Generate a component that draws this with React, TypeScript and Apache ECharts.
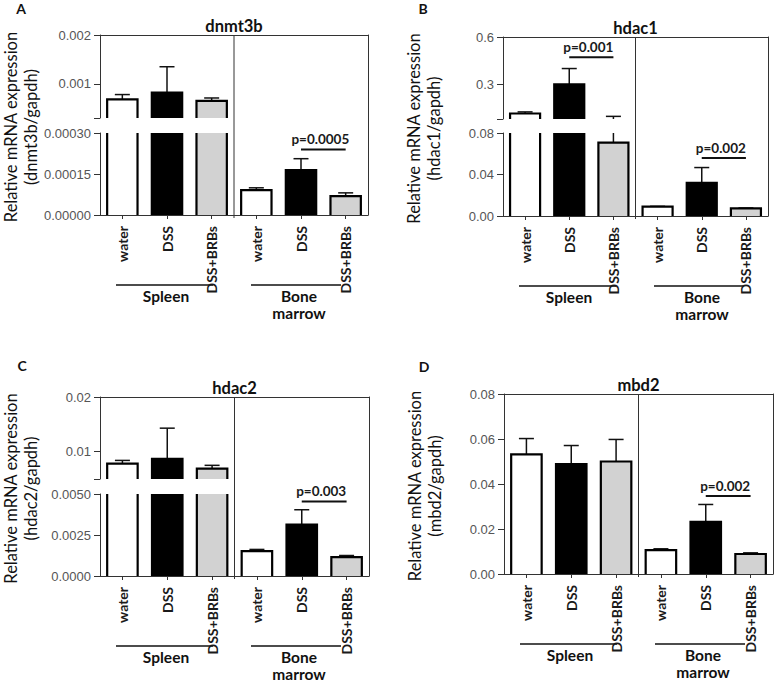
import React, { useEffect, useRef } from 'react';
import * as echarts from 'echarts';

// ---------- data ----------
const categories = ['water', 'DSS', 'DSS+BRBs', 'water', 'DSS', 'DSS+BRBs'];
const tissues = ['Spleen', 'Bone\nmarrow'];
const barColors = ['#ffffff', '#000000', '#d2d2d2'];

const dnmt3bMean = [0.00068, 0.00082, 0.00065, 0.000091, 0.000164, 0.000069];
const dnmt3bErr = [0.0001, 0.00053, 0.00006, 0.0000085, 0.000042, 0.000012];
const dnmt3bUpperRange = [0.0003, 0.002];
const dnmt3bLowerRange = [0, 0.0003];
const dnmt3bUpperTicks = [0.001, 0.002];
const dnmt3bLowerTicks = [0, 0.00015, 0.0003];
const dnmt3bPValues = [[4, 0.00024, 5]];
const dnmt3bPLabels = ['p=0.0005'];

const hdac1Mean = [0.115, 0.3, 0.0707, 0.009, 0.032, 0.0074];
const hdac1Err = [0.01, 0.1, 0.026, 0.0003, 0.0147, 0.0003];
const hdac1UpperRange = [0.08, 0.6];
const hdac1LowerRange = [0, 0.08];
const hdac1UpperTicks = [0.3, 0.6];
const hdac1LowerTicks = [0, 0.04, 0.08];
const hdac1PValues = [[1, 0.472, 2], [4, 0.056, 5]];
const hdac1PLabels = ['p=0.001', 'p=0.002'];

const hdac2Mean = [0.0078, 0.0087, 0.0069, 0.00152, 0.00314, 0.00115];
const hdac2Err = [0.0006, 0.0056, 0.0006, 0.0001, 0.0009, 0.0001];
const hdac2UpperRange = [0.005, 0.02];
const hdac2LowerRange = [0, 0.005];
const hdac2UpperTicks = [0.01, 0.02];
const hdac2LowerTicks = [0, 0.0025, 0.005];
const hdac2PValues = [[4, 0.00455, 5]];
const hdac2PLabels = ['p=0.003'];

const mbd2Mean = [0.0532, 0.0488, 0.05, 0.0106, 0.0232, 0.0089];
const mbd2Err = [0.007, 0.0083, 0.0098, 0.0006, 0.0077, 0.0005];
const mbd2Range = [0, 0.08];
const mbd2Ticks = [0, 0.02, 0.04, 0.06, 0.08];
const mbd2PValues = [[4, 0.0347, 5]];
const mbd2PLabels = ['p=0.002'];

// ---------- layout ----------
const panels = [
  {
    letter: 'A', gene: 'dnmt3b', mean: dnmt3bMean, err: dnmt3bErr,
    segments: [
      { range: dnmt3bUpperRange, ticks: dnmt3bUpperTicks, decimals: 3 },
      { range: dnmt3bLowerRange, ticks: dnmt3bLowerTicks, decimals: 5 },
    ],
    pvals: dnmt3bPValues, plabels: dnmt3bPLabels,
    layout: { left: 100, width: 268, segs: [[35, 118], [133, 215]], lx: 21, ly: 8 },
  },
  {
    letter: 'B', gene: 'hdac1', mean: hdac1Mean, err: hdac1Err,
    segments: [
      { range: hdac1UpperRange, ticks: hdac1UpperTicks, decimals: 1 },
      { range: hdac1LowerRange, ticks: hdac1LowerTicks, decimals: 2 },
    ],
    pvals: hdac1PValues, plabels: hdac1PLabels,
    layout: { left: 503, width: 265, segs: [[37, 119], [133, 216]], lx: 423, ly: 8 },
  },
  {
    letter: 'C', gene: 'hdac2', mean: hdac2Mean, err: hdac2Err,
    segments: [
      { range: hdac2UpperRange, ticks: hdac2UpperTicks, decimals: 2 },
      { range: hdac2LowerRange, ticks: hdac2LowerTicks, decimals: 4 },
    ],
    pvals: hdac2PValues, plabels: hdac2PLabels,
    layout: { left: 100, width: 269, segs: [[397, 479], [494, 576]], lx: 22, ly: 365 },
  },
  {
    letter: 'D', gene: 'mbd2', mean: mbd2Mean, err: mbd2Err,
    segments: [{ range: mbd2Range, ticks: mbd2Ticks, decimals: 2 }],
    pvals: mbd2PValues, plabels: mbd2PLabels,
    layout: { left: 504, width: 269, segs: [[394, 574]], lx: 424, ly: 366 },
  },
];

const BAR_RATIO = 0.68;
const FONT = 'Lato, "Open Sans", sans-serif';

function renderBar(params: any, api: any) {
  const cs = params.coordSys;
  const cat = api.value(0);
  const v = api.value(1);
  const e = api.value(2);
  const ci = api.value(3);
  const bw = api.size([1, 0])[0] * BAR_RATIO;
  const base = api.coord([cat, 0]);
  const top = api.coord([cat, v]);
  const et = api.coord([cat, v + e]);
  const yMin = cs.y;
  const yMax = cs.y + cs.height;
  const clamp = (y: number) => Math.max(yMin, Math.min(yMax, y));
  const x0 = base[0] - bw / 2;
  const x1 = base[0] + bw / 2;
  const yb = clamp(base[1]);
  const yt = clamp(top[1]);
  const children: any[] = [];
  // error bar (upper whisker only)
  const wt = clamp(et[1]);
  const wb = clamp(top[1]);
  if (wb - wt > 0.3) {
    children.push({ type: 'line', shape: { x1: base[0], y1: wb, x2: base[0], y2: wt }, style: { stroke: '#111', lineWidth: 1.5 } });
  }
  if (et[1] >= yMin - 0.5 && et[1] <= yMax && et[1] < top[1] - 0.3) {
    children.push({ type: 'line', shape: { x1: base[0] - 7.5, y1: et[1], x2: base[0] + 7.5, y2: et[1] }, style: { stroke: '#111', lineWidth: 1.5 } });
  }
  if (yb - yt > 0.3) {
    children.push({ type: 'rect', shape: { x: x0, y: yt, width: bw, height: yb - yt }, style: { fill: barColors[ci], stroke: 'none' } });
    const topIn = top[1] >= yMin && top[1] <= yMax;
    if (topIn) {
      children.push({ type: 'polyline', shape: { points: [[x0, yb], [x0, yt], [x1, yt], [x1, yb]] }, style: { stroke: '#000', lineWidth: 2.2, fill: 'none', lineJoin: 'miter' } });
    } else {
      children.push({ type: 'line', shape: { x1: x0, y1: yt, x2: x0, y2: yb }, style: { stroke: '#000', lineWidth: 2.2 } });
      children.push({ type: 'line', shape: { x1: x1, y1: yt, x2: x1, y2: yb }, style: { stroke: '#000', lineWidth: 2.2 } });
    }
  }
  return { type: 'group', children };
}

function makeAnnot(labels: string[]) {
  return (params: any, api: any) => {
    const idx = params.dataIndex;
    const p1 = api.coord([api.value(0), api.value(1)]);
    const p2 = api.coord([api.value(2), api.value(1)]);
    return {
      type: 'group',
      children: [
        { type: 'line', shape: { x1: p1[0], y1: p1[1], x2: p2[0], y2: p2[1] }, style: { stroke: '#111', lineWidth: 2 } },
        {
          type: 'text', x: (p1[0] + p2[0]) / 2 - 3, y: p1[1] - 10,
          style: { text: labels[idx], fill: '#1a1a1a', fontSize: 13.5, fontWeight: 'bold', fontFamily: FONT, align: 'center', verticalAlign: 'middle' },
        },
      ],
    };
  };
}

function renderDivider(params: any, api: any) {
  const cs = params.coordSys;
  const x = api.coord([api.value(0), 0])[0];
  return { type: 'line', shape: { x1: x, y1: cs.y, x2: x, y2: cs.y + cs.height + 3 }, style: { stroke: '#333', lineWidth: 1 } };
}

function buildOption() {
  const grid: any[] = [];
  const xAxis: any[] = [];
  const yAxis: any[] = [];
  const series: any[] = [];
  const graphic: any[] = [];

  panels.forEach((p) => {
    const L = p.layout;
    const frameTop = L.segs[0][0];
    const frameBottom = L.segs[L.segs.length - 1][1];
    const nSeg = p.segments.length;

    p.segments.forEach((s, si) => {
      const [top, bottom] = L.segs[si];
      const isLast = si === nSeg - 1;
      const gi = grid.length;
      grid.push({ left: L.left, top, width: L.width, height: bottom - top, show: false });
      xAxis.push({
        type: 'category', gridIndex: gi, data: categories, boundaryGap: true,
        axisLine: { show: isLast, onZero: false, lineStyle: { color: '#333', width: 1 } },
        axisTick: { show: isLast, alignWithLabel: true, length: 4, lineStyle: { color: '#333' } },
        axisLabel: { show: isLast, interval: 0, rotate: 90, margin: 11, color: '#1a1a1a', fontSize: 14, fontWeight: 'bold', fontFamily: FONT },
        splitLine: { show: false },
      });
      const tickVals = isLast ? s.ticks : [s.range[0], ...s.ticks];
      yAxis.push({
        type: 'value', gridIndex: gi, min: s.range[0], max: s.range[1],
        axisLine: { show: true, onZero: false, lineStyle: { color: '#333', width: 1 } },
        axisTick: { show: true, length: 6, customValues: tickVals, lineStyle: { color: '#333' } },
        axisLabel: {
          customValues: s.ticks, formatter: (v: number) => v.toFixed(s.decimals),
          color: '#555', fontSize: 13, fontFamily: '"Liberation Sans", Arial, sans-serif', margin: 9,
        },
        splitLine: { show: false },
      });
      series.push({
        type: 'custom', xAxisIndex: gi, yAxisIndex: gi, silent: true, renderItem: renderBar,
        data: p.mean.map((m, i) => [i, m, p.err[i], i % 3]),
      });
      const ann = p.pvals
        .map((a, k) => ({ value: a, label: p.plabels[k] }))
        .filter((a) => a.value[1] > s.range[0] && a.value[1] <= s.range[1]);
      if (ann.length) {
        series.push({
          type: 'custom', xAxisIndex: gi, yAxisIndex: gi, silent: true,
          renderItem: makeAnnot(ann.map((a) => a.label)),
          data: ann.map((a) => a.value),
        });
      }
    });

    // frame: top line, right line, divider
    const fi = grid.length;
    grid.push({ left: L.left, top: frameTop, width: L.width, height: frameBottom - frameTop, show: false });
    xAxis.push({
      type: 'value', gridIndex: fi, min: 0, max: categories.length, position: 'top',
      axisLine: { show: true, onZero: false, lineStyle: { color: '#333', width: 1 } },
      axisTick: { show: false }, axisLabel: { show: false }, splitLine: { show: false },
    });
    yAxis.push({
      type: 'value', gridIndex: fi, min: 0, max: 1, position: 'right',
      axisLine: { show: true, onZero: false, lineStyle: { color: '#333', width: 1 } },
      axisTick: { show: false }, axisLabel: { show: false }, splitLine: { show: false },
    });
    series.push({
      type: 'custom', xAxisIndex: fi, yAxisIndex: fi, silent: true, renderItem: renderDivider,
      data: [[categories.length / 2, 0]],
    });

    // texts
    graphic.push({
      type: 'text', x: L.lx, y: L.ly,
      style: { text: p.letter, fill: '#111', fontSize: 14, fontWeight: 'bold', fontFamily: FONT, align: 'center', verticalAlign: 'middle' },
    });
    graphic.push({
      type: 'text', x: L.left + L.width / 2, y: frameTop - 9,
      style: { text: p.gene, fill: '#111', fontSize: 16.5, fontWeight: 'bold', fontFamily: FONT, align: 'center', verticalAlign: 'middle' },
    });
    graphic.push({
      type: 'text', x: L.left - 79, y: (frameTop + frameBottom) / 2 + 2, rotation: Math.PI / 2,
      style: {
        text: 'Relative mRNA expression\n(' + p.gene + '/gapdh)', fill: '#111', fontSize: 16.5, fontFamily: FONT,
        align: 'center', verticalAlign: 'middle', lineHeight: 20,
      },
    });
    const lineY = frameBottom + 70;
    const groupSpans = [[16, 113, 66], [151, 241, 199]];
    groupSpans.forEach((g, k) => {
      graphic.push({ type: 'line', shape: { x1: L.left + g[0], y1: lineY, x2: L.left + g[1], y2: lineY }, style: { stroke: '#111', lineWidth: 1.5 } });
      graphic.push({
        type: 'text', x: L.left + g[2], y: lineY + 2,
        style: { text: tissues[k], fill: '#111', fontSize: 15.5, fontWeight: 'bold', fontFamily: FONT, align: 'center', verticalAlign: 'top', lineHeight: 17 },
      });
    });
  });

  return { animation: false, backgroundColor: '#ffffff', grid, xAxis, yAxis, series, graphic };
}

export default function App() {
  const ref = useRef<HTMLDivElement>(null);
  useEffect(() => {
    const chart = echarts.init(ref.current as HTMLDivElement, null, { renderer: 'svg' });
    chart.setOption(buildOption() as any);
    return () => chart.dispose();
  }, []);
  return <div ref={ref} style={{ position: 'fixed', left: 0, top: 0, width: 774, height: 682 }} />;
}
